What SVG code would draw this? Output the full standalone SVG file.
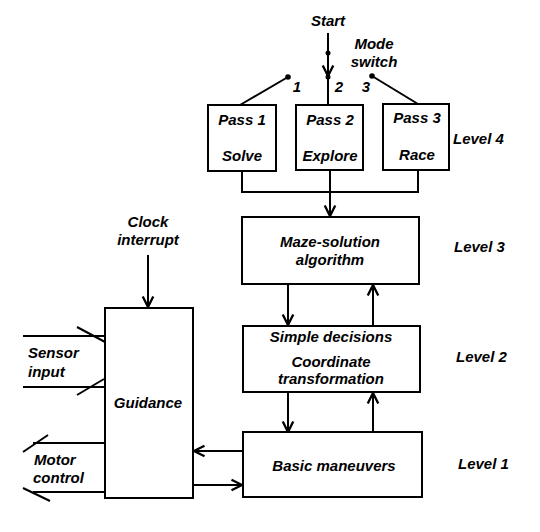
<svg xmlns="http://www.w3.org/2000/svg" width="540" height="532" viewBox="0 0 540 532">
<style>
text{font-family:"Liberation Sans",Arial,sans-serif;font-style:italic;font-weight:bold;font-size:15px;fill:#000}
.m{text-anchor:middle}
.box{fill:#fff;stroke:#000;stroke-width:2}
.ln{fill:none;stroke:#000;stroke-width:2}
</style>
<defs>
<marker id="ah" markerUnits="userSpaceOnUse" markerWidth="14" markerHeight="14" viewBox="-10 -6 12 12" refX="0" refY="0" orient="auto">
<path d="M-9,-4.5 L0,0 L-9,4.5" fill="none" stroke="#000" stroke-width="2"/>
</marker>
</defs>
<rect width="540" height="532" fill="#fff"/>
<g id="connectors">
<line class="ln" x1="328" y1="33" x2="328" y2="76" marker-end="url(#ah)"/>
<line class="ln" x1="328" y1="77" x2="328" y2="105"/>
<circle cx="328" cy="53" r="2.5"/>
<circle cx="328" cy="77" r="2.5"/>
<circle cx="288" cy="77" r="2.8"/>
<circle cx="372" cy="76" r="2.8"/>
<line class="ln" x1="288" y1="77" x2="240" y2="105"/>
<line class="ln" x1="372" y1="76" x2="418" y2="104"/>
<polyline class="ln" points="242,171 242,192 418,192 418,170"/>
<line class="ln" x1="330" y1="170" x2="330" y2="216" marker-end="url(#ah)"/>
<line class="ln" x1="288" y1="284" x2="288" y2="325" marker-end="url(#ah)"/>
<line class="ln" x1="373" y1="326" x2="373" y2="285" marker-end="url(#ah)"/>
<line class="ln" x1="288" y1="392" x2="288" y2="432" marker-end="url(#ah)"/>
<line class="ln" x1="373" y1="432" x2="373" y2="393" marker-end="url(#ah)"/>
<line class="ln" x1="148" y1="255" x2="148" y2="307" marker-end="url(#ah)"/>
<line class="ln" x1="243" y1="451" x2="194" y2="451" marker-end="url(#ah)"/>
<line class="ln" x1="193" y1="485" x2="242" y2="485" marker-end="url(#ah)"/>
<line class="ln" x1="23" y1="336" x2="105" y2="336"/>
<line class="ln" x1="77" y1="327" x2="105" y2="342"/>
<line class="ln" x1="23" y1="387" x2="105" y2="387"/>
<line class="ln" x1="77" y1="395" x2="104" y2="379"/>
<line class="ln" x1="33" y1="443" x2="105" y2="443"/>
<line class="ln" x1="23" y1="452" x2="48" y2="435"/>
<line class="ln" x1="33" y1="492" x2="105" y2="492"/>
<line class="ln" x1="23" y1="488" x2="50" y2="501"/>
</g>
<g id="start"><text class="m" x="328" y="26">Start</text></g>
<g id="mode-switch">
<text class="m" x="374" y="49">Mode</text>
<text class="m" x="374" y="67">switch</text>
<text class="m" x="297" y="92">1</text>
<text class="m" x="339" y="92">2</text>
<text class="m" x="366" y="92">3</text>
</g>
<g id="pass1"><rect class="box" x="208" y="105" width="68" height="66"/><text class="m" x="242" y="125">Pass 1</text><text class="m" x="242" y="161">Solve</text></g>
<g id="pass2"><rect class="box" x="296" y="105" width="67" height="65"/><text class="m" x="330" y="125">Pass 2</text><text class="m" x="330" y="161">Explore</text></g>
<g id="pass3"><rect class="box" x="383" y="104" width="66" height="66"/><text class="m" x="417" y="123">Pass 3</text><text class="m" x="417" y="160">Race</text></g>
<g id="maze"><rect class="box" x="242" y="217" width="177" height="67"/><text class="m" x="330" y="247">Maze-solution</text><text class="m" x="330" y="265">algorithm</text></g>
<g id="simple"><rect class="box" x="243" y="326" width="177" height="66"/><text class="m" x="331" y="342">Simple decisions</text><text class="m" x="331" y="367">Coordinate</text><text class="m" x="331" y="384">transformation</text></g>
<g id="basic"><rect class="box" x="243" y="432" width="179" height="65"/><text class="m" x="334" y="471">Basic maneuvers</text></g>
<g id="guidance"><rect class="box" x="105" y="308" width="88" height="190"/><text class="m" x="148" y="408">Guidance</text></g>
<g id="labels">
<text class="m" x="148" y="227">Clock</text>
<text class="m" x="148" y="245">interrupt</text>
<text x="28" y="358">Sensor</text>
<text x="28" y="377">input</text>
<text x="34" y="465">Motor</text>
<text x="33" y="483">control</text>
<text x="453" y="144">Level 4</text>
<text x="454" y="252">Level 3</text>
<text x="456" y="362">Level 2</text>
<text x="458" y="469">Level 1</text>
</g>
</svg>
